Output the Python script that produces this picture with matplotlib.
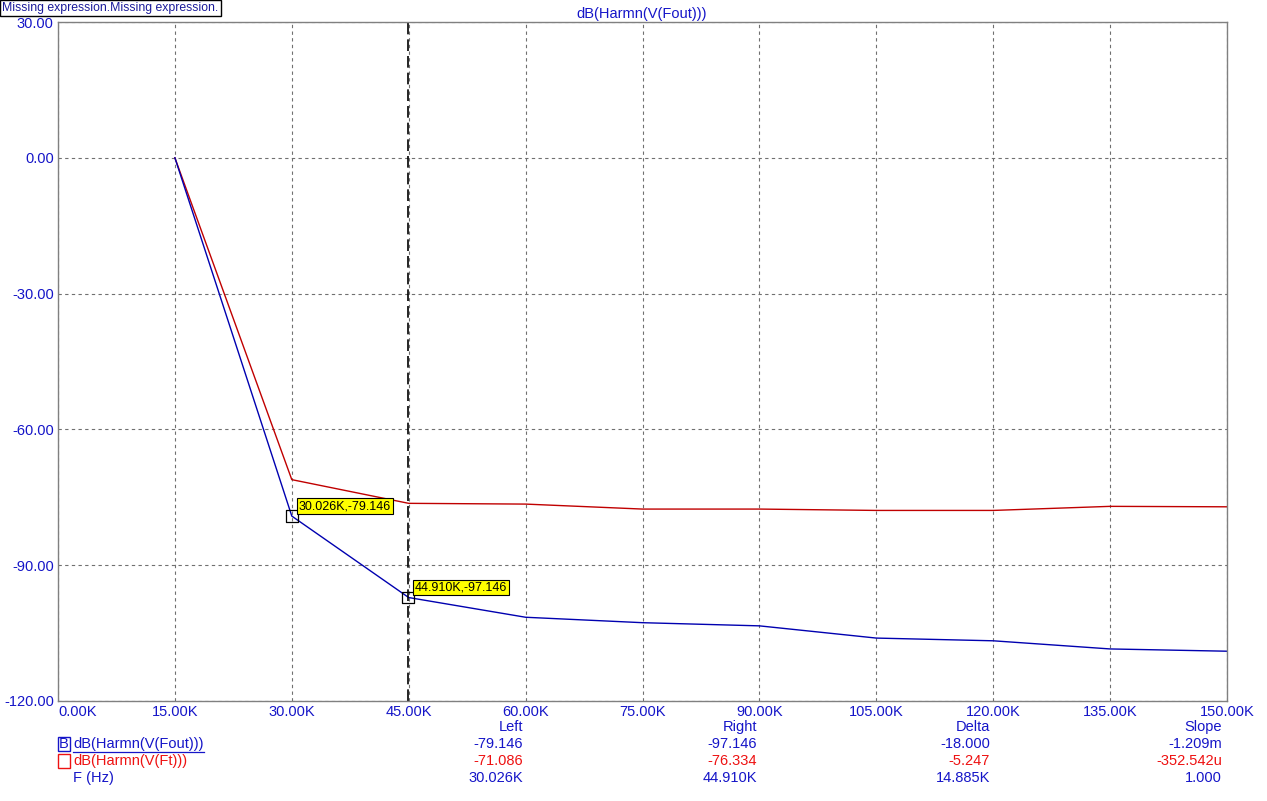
import numpy as np
import matplotlib.pyplot as plt
from matplotlib.patches import Rectangle

plt.rcParams['font.family'] = ['Liberation Sans', 'DejaVu Sans']

# harmonic frequencies (kHz) and levels (dB)
freq = [15, 30, 45, 60, 75, 90, 105, 120, 135, 150]
fout_db = [0.0, -79.146, -97.146, -101.5, -102.7, -103.4, -106.1, -106.7, -108.5, -109.0]
ft_db = [0.0, -71.1, -76.334, -76.5, -77.6, -77.6, -77.9, -77.9, -77.0, -77.1]

# cursor points
cur_x = [30.026, 44.910]
cur_y = [-79.146, -97.146]
cur_lbl = ['30.026K,-79.146', '44.910K,-97.146']

xticks = np.arange(0, 151, 15)
yticks = [30, 0, -30, -60, -90, -120]

# readout table
tbl_cols = ['Left', 'Right', 'Delta', 'Slope']
tbl_fout = ['-79.146', '-97.146', '-18.000', '-1.209m']
tbl_ft = ['-71.086', '-76.334', '-5.247', '-352.542u']
tbl_f = ['30.026K', '44.910K', '14.885K', '1.000']

W, H = 1267, 801
BLUE = '#1515c8'
RED = '#ee1111'
FS = 10.5


def fx(x):
    return x / W


def fy(y):
    return 1 - y / H


fig = plt.figure(figsize=(W / 100, H / 100), dpi=100)
ax = fig.add_axes([fx(58), fy(701), 1169 / W, 679 / H])

ax.plot(freq, ft_db, color='#c00000', lw=1.0)
ax.plot(freq, fout_db, color='#0000b0', lw=1.0)
ax.axvline(cur_x[1], color='black', lw=1.2, dashes=(7, 3))

ax.scatter(cur_x, cur_y, marker='s', s=70, facecolors='none', edgecolors='black', lw=0.9, zorder=5)
for x, y, t in zip(cur_x, cur_y, cur_lbl):
    ax.annotate(t, (x, y), xytext=(7, 4), textcoords='offset pixels', fontsize=9,
                color='black', va='bottom', ha='left',
                bbox=dict(boxstyle='square,pad=0.15', fc='#ffff00', ec='black', lw=0.8), zorder=6)

ax.set_xlim(0, 150)
ax.set_ylim(-120, 30)
ax.set_xticks(xticks)
ax.set_xticklabels(['{:.2f}K'.format(v) for v in xticks])
ax.set_yticks(yticks)
ax.set_yticklabels(['{:.2f}'.format(v) for v in yticks])
ax.tick_params(length=0, labelsize=FS, labelcolor=BLUE)
ax.tick_params(axis='x', pad=3)
ax.tick_params(axis='y', pad=3)
ax.get_xticklabels()[0].set_ha('left')
ax.grid(True, color='#707070', lw=0.8, dashes=(3, 3))
for s in ax.spines.values():
    s.set_color('#808080')
    s.set_linewidth(1.0)

fig.text(fx(642), fy(14), 'dB(Harmn(V(Fout)))', ha='center', va='center', fontsize=FS, color=BLUE)

# top-left message box
fig.patches.append(Rectangle((fx(0), fy(16)), 221 / W, 16 / H, transform=fig.transFigure,
                             fc='white', ec='black', lw=1.0))
fig.text(fx(2), fy(8), 'Missing expression.Missing expression.', ha='left', va='center',
         fontsize=8.8, color='#1a1a9a')

# readout table
col_x = [523, 757, 990, 1222]
for i in range(4):
    fig.text(fx(col_x[i]), fy(727), tbl_cols[i], ha='right', va='center', fontsize=FS, color=BLUE)
    fig.text(fx(col_x[i]), fy(744), tbl_fout[i], ha='right', va='center', fontsize=FS, color=BLUE)
    fig.text(fx(col_x[i]), fy(761), tbl_ft[i], ha='right', va='center', fontsize=FS, color=RED)
    fig.text(fx(col_x[i]), fy(778), tbl_f[i], ha='right', va='center', fontsize=FS, color=BLUE)

fig.patches.append(Rectangle((fx(58), fy(751)), 12 / W, 14 / H, transform=fig.transFigure,
                             fc='none', ec=BLUE, lw=1.0))
fig.text(fx(64), fy(744), 'B', ha='center', va='center', fontsize=FS, color=BLUE)
fig.patches.append(Rectangle((fx(58), fy(768)), 12 / W, 14 / H, transform=fig.transFigure,
                             fc='none', ec=RED, lw=1.0))
fig.text(fx(73), fy(744), 'dB(Harmn(V(Fout)))', ha='left', va='center', fontsize=FS, color=BLUE)
fig.lines.append(plt.Line2D([fx(73), fx(204)], [fy(752), fy(752)], transform=fig.transFigure,
                            color=BLUE, lw=0.9))
fig.text(fx(73), fy(761), 'dB(Harmn(V(Ft)))', ha='left', va='center', fontsize=FS, color=RED)
fig.text(fx(73), fy(778), 'F (Hz)', ha='left', va='center', fontsize=FS, color=BLUE)

fig.savefig('out.png', dpi=100)
